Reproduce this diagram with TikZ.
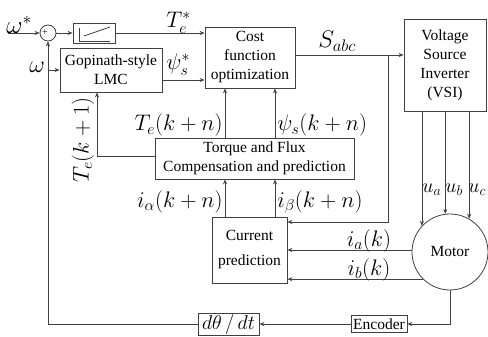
\documentclass[tikz,border=0pt]{standalone}
\usepackage{fix-cm}
\usepackage{fontspec}
\setmainfont{Liberation Serif}
\usetikzlibrary{arrows.meta}
\begin{document}
\begin{tikzpicture}[x=1pt,y=-1pt,line width=0.8pt,
  every node/.style={font=\fontsize{15.5}{19}\selectfont},
  blk/.style={draw=black!75,rectangle,align=center,inner sep=1pt},
  lbl/.style={font=\fontsize{22.5}{26}\selectfont,inner sep=0pt},
  ulbl/.style={font=\fontsize{20}{24}\selectfont,inner sep=0pt,anchor=base west},
  arr/.style={draw=black!75,-{Stealth[length=5pt,width=4pt]}},
  ln/.style={draw=black!75}]
\useasboundingbox (0,0) rectangle (488,337);

% blocks
\node[draw=black!75,circle,minimum size=16pt,inner sep=0pt] (sum) at (48,33) {};
\node[font=\fontsize{10}{10}\selectfont,inner sep=0pt] (plus) at (45,33) {+};
\node[blk,minimum width=42pt,minimum height=20pt] (ramp) at (94,33) {};
\node[blk,minimum width=90pt,minimum height=61pt] (cost) at (250,57.5) {Cost\\function\\optimization};
\node[blk,minimum width=102pt,minimum height=44pt] (gop) at (111,70) {Gopinath-style\\LMC};
\node[blk,minimum width=82pt,minimum height=92pt] (vsi) at (445,65) {Voltage\\Source\\Inverter\\(VSI)};
\node[blk,minimum width=199pt,minimum height=41pt] (torq) at (254.5,158.5) {Torque and Flux\\Compensation and prediction};
\node[blk,minimum width=75pt,minimum height=66pt,font=\fontsize{15.5}{25}\selectfont] (curr) at (249.5,250) {Current\\prediction};
\node[draw=black!75,circle,minimum size=76pt,inner sep=0pt] (motor) at (450,252) {Motor};
\node[blk,minimum width=56pt,minimum height=17pt] (enc) at (379,324) {Encoder};
\node[blk,minimum width=61pt,minimum height=21pt,font=\fontsize{20}{22}\selectfont] (dth) at (228.5,324) {$d\theta\,/\,dt$};

% ramp symbol
\draw[ln] (79,28) -- (79,41) -- (110,41);
\draw[ln] (84,36) -- (110,27);

% coordinates
\coordinate (win) at (8,33);
\coordinate (wtap) at (48,70);
\coordinate (sx) at (388,55);
\coordinate (xa) at (225,0);
\coordinate (xb) at (275,0);
\coordinate (xg) at (97,0);

% connectors
\draw[arr] (win) -- (sum.west);
\draw[arr] (sum.east) -- (ramp.west);
\draw[arr] (ramp.east) -- (cost.west |- ramp.east);
\draw[arr] (wtap) -- (gop.west |- wtap);
\draw[arr] (gop.east |- 0,80) -- (cost.west |- 0,80);
\draw[arr] (cost.east |- sx) -- (vsi.west |- sx);
\draw[arr] (sx) |- (curr.east |- 0,222);
\draw[arr] (vsi.south -| motor.137.5) -- (motor.137.5);
\draw[arr] (vsi.south -| motor.97.6) -- (motor.97.6);
\draw[arr] (vsi.south -| motor.60) -- (motor.60);
\draw[arr] (motor.177) -- (curr.east |- motor.177);
\draw[arr] (motor.225) -- (curr.east |- motor.225);
\draw[arr] (motor.south) |- (enc.east);
\draw[arr] (enc.west) -- (dth.east);
\draw[arr] (dth.west) -| (sum.south);
\draw[arr] (torq.north -| xa) -- (cost.south -| xa);
\draw[arr] (torq.north -| xb) -- (cost.south -| xb);
\draw[arr] (curr.north -| xa) -- (torq.south -| xa);
\draw[arr] (curr.north -| xb) -- (torq.south -| xb);
\draw[arr] (torq.west |- 0,156) -| (gop.south -| xg);

% labels
\node[lbl,font=\fontsize{25}{28}\selectfont,anchor=base west] (lw1) at (6,34) {$\omega^{*}$};
\node[lbl,font=\fontsize{24}{28}\selectfont,anchor=base west] (lw2) at (29,73) {$\omega$};
\node[lbl,anchor=base west] (lte) at (166,28) {$T_e^{*}$};
\node[lbl,anchor=base west] (lps) at (166,70) {$\psi_s^{*}$};
\node[lbl,font=\fontsize{24}{28}\selectfont,anchor=base west] (lsa) at (318,48) {$S_{abc}$};
\node[lbl,anchor=base east] (ltn) at (223,131) {$T_e(k+n)$};
\node[lbl,anchor=base west] (lpn) at (277,131) {$\psi_s(k+n)$};
\node[lbl,anchor=base east] (lian) at (223,207) {$i_\alpha(k+n)$};
\node[lbl,anchor=base west] (libn) at (277,207) {$i_\beta(k+n)$};
\node[lbl,anchor=base] (lia) at (369,246) {$i_a(k)$};
\node[lbl,anchor=base] (lib) at (369,275) {$i_b(k)$};
\node[ulbl] (lua) at (422,193) {$u_a$};
\node[ulbl] (lub) at (445,193) {$u_b$};
\node[ulbl] (luc) at (468,193) {$u_c$};
\node[lbl,rotate=90] (lt1) at (83,140) {$T_e(k+1)$};
\end{tikzpicture}
\end{document}
